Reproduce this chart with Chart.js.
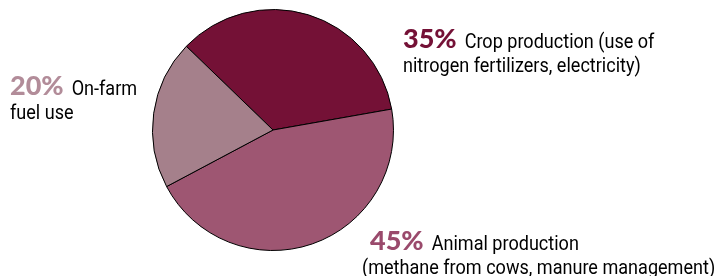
<!DOCTYPE html>
<html>
<head>
<meta charset="utf-8">
<script src="https://cdn.jsdelivr.net/npm/chart.js@4"></script>
<style>
html,body{margin:0;padding:0;background:#fff;}
#wrap{width:721px;height:276px;position:relative;}
</style>
</head>
<body>
<div id="wrap"><canvas id="c" width="721" height="276"></canvas></div>
<script>
const categories = ["Crop production", "Animal production", "On-farm fuel use"];
const values = [35, 45, 20];
const percentLabels = ["35%", "45%", "20%"];
const descLine1 = ["Crop production (use of", "Animal production", "On-farm"];
const descLine2 = ["nitrogen fertilizers, electricity)", "(methane from cows, manure management)", "fuel use"];
const sliceColors = ["#741136", "#9e5672", "#a5808b"];
const pctColors = ["#741136", "#9a4a6c", "#b28c99"];

// label anchor positions (pixels on canvas)
const labelPos = [
  {x: 403, y: 48, x2: 403},
  {x: 370, y: 250, x2: 362},
  {x: 10, y: 95, x2: 10}
];

const labelPlugin = {
  id: 'sliceLabels',
  afterDraw(chart) {
    const ctx = chart.ctx;
    const sx = 0.86;
    ctx.save();
    ctx.textBaseline = 'alphabetic';
    ctx.textAlign = 'left';
    values.forEach((v, i) => {
      const p = labelPos[i];
      ctx.font = '900 27px "Lato", "Open Sans", sans-serif';
      ctx.fillStyle = pctColors[i];
      ctx.fillText(percentLabels[i], p.x, p.y);
      const w = ctx.measureText(percentLabels[i]).width;
      ctx.fillStyle = '#000';
      ctx.font = '21px "Roboto", sans-serif';
      ctx.save();
      ctx.translate(p.x + w + 8, p.y);
      ctx.scale(sx, 1);
      ctx.fillText(descLine1[i], 0, 0);
      ctx.restore();
      ctx.save();
      ctx.translate(p.x2, p.y + 24);
      ctx.scale(sx, 1);
      ctx.fillText(descLine2[i], 0, 0);
      ctx.restore();
    });
    ctx.restore();
  }
};

new Chart(document.getElementById('c'), {
  type: 'pie',
  data: {
    labels: categories,
    datasets: [{
      data: values,
      backgroundColor: sliceColors,
      borderColor: '#000',
      borderWidth: 1
    }]
  },
  options: {
    responsive: false,
    animation: false,
    rotation: 314,
    layout: { padding: { left: 152, right: 327, top: 8, bottom: 24 } },
    plugins: {
      legend: { display: false },
      tooltip: { enabled: false }
    }
  },
  plugins: [labelPlugin]
});
</script>
</body>
</html>
